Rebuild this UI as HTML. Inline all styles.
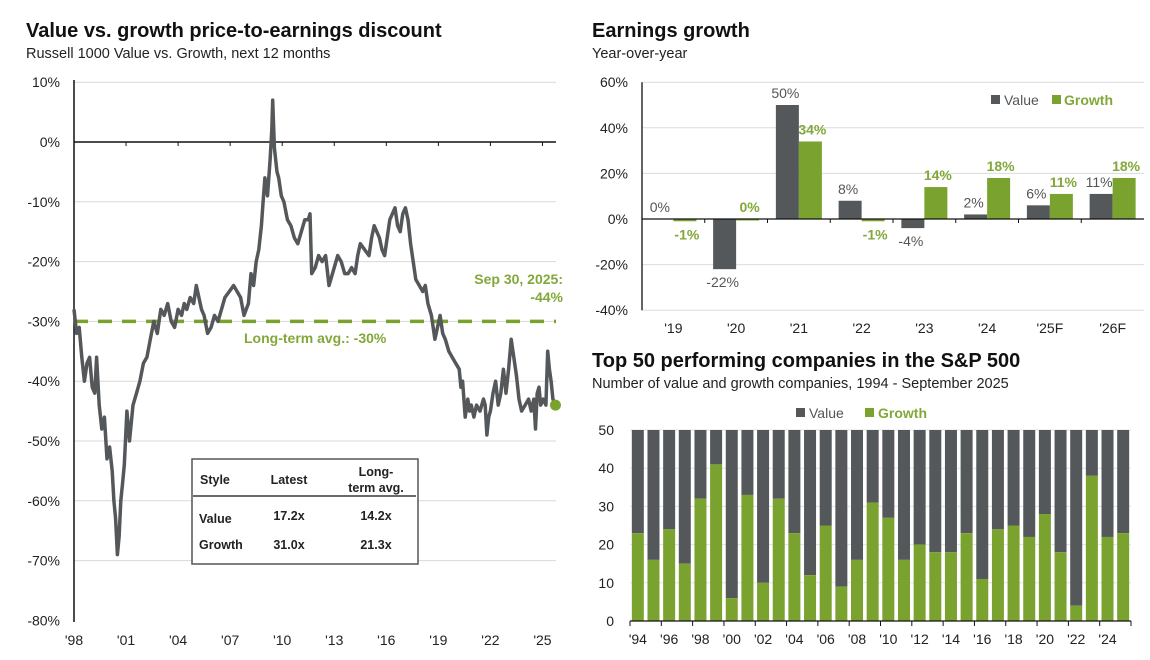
<!DOCTYPE html>
<html><head><meta charset="utf-8"><style>
body{margin:0;background:#fff;width:1150px;height:655px;overflow:hidden;font-family:"Liberation Sans",Arial,sans-serif}
svg text{font-family:"Liberation Sans",Arial,sans-serif}
</style></head><body>
<svg id="s" width="1150" height="655" viewBox="0 0 1150 655" xmlns="http://www.w3.org/2000/svg">
<text x="26" y="37" font-size="20" font-weight="bold" fill="#111">Value vs. growth price-to-earnings discount</text>
<text x="26" y="58" font-size="14.5" fill="#222">Russell 1000 Value vs. Growth, next 12 months</text>
<text x="592" y="37" font-size="20" font-weight="bold" fill="#111">Earnings growth</text>
<text x="592" y="58" font-size="14.5" fill="#222">Year-over-year</text>
<text x="592" y="367" font-size="20" font-weight="bold" fill="#111">Top 50 performing companies in the S&amp;P 500</text>
<text x="592" y="388" font-size="14.5" fill="#222">Number of value and growth companies, 1994 - September 2025</text>
<g id="left"></g><g id="tr"></g><g id="br"></g>
</svg>
<script>
// ---- Left chart data ----
const peYears=[
1998.0,1998.15,1998.3,1998.45,1998.6,1998.75,1998.9,1999.05,1999.2,1999.3,
1999.45,1999.6,1999.75,1999.9,2000.05,2000.2,2000.3,2000.4,2000.5,2000.6,
2000.7,2000.8,2000.9,2001.05,2001.2,2001.4,2001.6,2001.8,2002.0,2002.2,
2002.4,2002.6,2002.8,2003.0,2003.2,2003.4,2003.6,2003.8,2004.0,2004.2,
2004.35,2004.5,2004.7,2004.9,2005.05,2005.2,2005.35,2005.5,2005.7,2005.9,
2006.1,2006.3,2006.5,2006.7,2006.95,2007.2,2007.4,2007.6,2007.8,2008.05,
2008.2,2008.35,2008.5,2008.65,2008.8,2008.9,2009.0,2009.15,2009.3,2009.4,
2009.45,2009.55,2009.7,2009.8,2009.95,2010.1,2010.3,2010.5,2010.7,2010.9,
2011.1,2011.3,2011.5,2011.6,2011.7,2011.9,2012.1,2012.3,2012.5,2012.7,
2012.9,2013.2,2013.4,2013.6,2013.8,2014.0,2014.2,2014.35,2014.5,2014.75,
2015.0,2015.15,2015.3,2015.45,2015.6,2015.75,2015.9,2016.05,2016.2,2016.35,
2016.5,2016.65,2016.8,2016.95,2017.1,2017.25,2017.4,2017.55,2017.7,2017.9,
2018.1,2018.25,2018.4,2018.6,2018.8,2018.95,2019.1,2019.25,2019.4,2019.6,
2019.8,2020.0,2020.2,2020.3,2020.4,2020.55,2020.7,2020.8,2020.9,2021.05,
2021.2,2021.4,2021.6,2021.7,2021.8,2021.9,2022.0,2022.15,2022.3,2022.45,
2022.6,2022.75,2022.9,2023.05,2023.2,2023.35,2023.5,2023.65,2023.8,2024.0,
2024.2,2024.35,2024.5,2024.6,2024.7,2024.8,2024.9,2025.05,2025.2,2025.3,
2025.4,2025.5,2025.6,2025.75];
const peValues=[
-28,-32,-31,-36,-40,-37,-36,-41,-42,-36,
-44,-48,-46,-53,-51,-55,-60,-63,-69,-66,
-60,-57,-54,-45,-50,-44,-42,-40,-37,-36,
-33,-30,-32,-28,-29,-27,-30,-31,-28,-29,
-27,-28,-26,-27,-24,-26,-28,-29,-32,-31,
-29,-30,-28,-26,-25,-24,-25,-26,-29,-27,
-22,-24,-20,-18,-14,-10,-6,-9,-3,2,
7,-1,-5,-6,-9,-10,-13,-14,-16,-17,
-15,-13,-13,-12,-22,-21,-19,-20,-19,-24,
-22,-19,-20,-22,-22,-21,-22,-19,-17,-18,
-19,-16,-14,-15,-16,-18,-19,-16,-13,-12,
-11,-14,-15,-12,-11,-13,-17,-20,-23,-24,
-25,-24,-27,-29,-33,-31,-29,-32,-33,-35,
-36,-37,-38,-41,-40,-46,-43,-45,-44,-46,
-44,-45,-43,-44,-49,-46,-45,-42,-40,-44,
-42,-38,-42,-38,-33,-36,-39,-43,-45,-44,
-43,-45,-43,-48,-42,-41,-44,-43,-44,-35,
-38,-40,-43,-44];
const peTickVals=[10,0,-10,-20,-30,-40,-50,-60,-70,-80];
const peYearTicks=[1998,2001,2004,2007,2010,2013,2016,2019,2022,2025];
const peAvg=-30;
// ---- Earnings growth data ----
const egCats=["'19","'20","'21","'22","'23","'24","'25F","'26F"];
const egValue=[0,-22,50,8,-4,2,6,11];
const egGrowth=[-1,0,34,-1,14,18,11,18];
const egTicks=[60,40,20,0,-20,-40];
// ---- Top 50 data ----
const t50Years=[1994,1995,1996,1997,1998,1999,2000,2001,2002,2003,2004,2005,2006,2007,2008,2009,2010,2011,2012,2013,2014,2015,2016,2017,2018,2019,2020,2021,2022,2023,2024,2025];
const t50Growth=[23,16,24,15,32,41,6,33,10,32,23,12,25,9,16,31,27,16,20,18,18,23,11,24,25,22,28,18,4,38,22,23];
const t50Total=[50,50,50,50,50,50,50,50,50,50,50,50,50,50,50,50,50,50,50,50,50,50,50,50,50,50,50,50,50,50,50,50];
const t50Ticks=[0,10,20,30,40,50];

const NS="http://www.w3.org/2000/svg";
const GREY="#55585b",GREEN="#7aa22f",GTXT="#82a83a";
function mk(parent,tag,attrs,text){const e=document.createElementNS(NS,tag);for(const k in attrs)e.setAttribute(k,attrs[k]);if(text!==undefined)e.textContent=text;parent.appendChild(e);return e;}

// LEFT
(function(){
const g=document.getElementById('left');
const x=yr=>74+(yr-1998)*17.35, y=v=>142-v*5.98;
peTickVals.forEach(v=>{
 if(v!==0&&v!==-80){const l=mk(g,'line',{x1:74,x2:556,y1:y(v),y2:y(v),stroke:'#d9d9d9','stroke-width':1});
 
 }
 const t=mk(g,'text',{x:60,y:y(v)+5,'font-size':14,'text-anchor':'end',fill:'#222'},v+'%');
 
 
});
const z=mk(g,'line',{x1:74,x2:556,y1:y(0),y2:y(0),stroke:'#111','stroke-width':1.5});


peYearTicks.forEach(yr=>{
 if(yr>1998){const tk=mk(g,'line',{x1:x(yr),x2:x(yr),y1:y(0),y2:y(0)+4,stroke:'#111'});
 
 }
 const t=mk(g,'text',{x:x(yr),y:645,'font-size':14,'text-anchor':'middle',fill:'#222'},"'"+String(yr).slice(2));
 
 
});
const ax=mk(g,'line',{x1:74,x2:74,y1:80,y2:622,stroke:'#111','stroke-width':1.5});


const av=mk(g,'line',{x1:74,x2:556,y1:y(peAvg),y2:y(peAvg),stroke:GREEN,'stroke-width':3.5,'stroke-dasharray':'14,10'});


const d=peYears.map((yr,i)=>(i?'L':'M')+x(yr).toFixed(1)+','+y(peValues[i]).toFixed(1)).join('');
const p=mk(g,'path',{d:d,fill:'none',stroke:GREY,'stroke-width':3.5,'stroke-linejoin':'round'});


const n=peYears.length-1;
const c=mk(g,'circle',{cx:x(peYears[n]),cy:y(peValues[n]),r:5.5,fill:GREEN});


const a1=mk(g,'text',{x:563,y:284,'font-size':14,'font-weight':'bold','text-anchor':'end',fill:GTXT},'Sep 30, 2025:');


const a2=mk(g,'text',{x:563,y:302,'font-size':14,'font-weight':'bold','text-anchor':'end',fill:GTXT},Math.round(peValues[n])+'%');


const a3=mk(g,'text',{x:244,y:343,'font-size':14,'font-weight':'bold',fill:GTXT},'Long-term avg.:  '+peAvg+'%');


// table
const tb=mk(g,'g',{});


mk(tb,'rect',{x:192,y:459,width:226,height:105,fill:'#fff',stroke:'#555','stroke-width':1.5});
mk(tb,'line',{x1:193,x2:416,y1:496,y2:496,stroke:'#111','stroke-width':1.2});
const rows=[['Style',200,484,'start'],['Latest',289,484,'middle'],['Long-',376,476,'middle'],['term avg.',376,492,'middle'],
['Value',199,523,'start'],['17.2x',289,520,'middle'],['14.2x',376,520,'middle'],
['Growth',199,549,'start'],['31.0x',289,549,'middle'],['21.3x',376,549,'middle']];
rows.forEach(r=>{const t=mk(tb,'text',{x:r[1],y:r[2],'font-size':12.5,'font-weight':'bold','text-anchor':r[3],fill:'#222'},r[0]);

});
})();

// TOP RIGHT
(function(){
const g=document.getElementById('tr');
const L=642,R=1144,cw=(R-L)/egCats.length,y=v=>219-v*2.28,bw=23;
egTicks.forEach(v=>{
 if(v!==0){const l=mk(g,'line',{x1:L,x2:R,y1:y(v),y2:y(v),stroke:'#dcdcdc'});
 
 }
 const t=mk(g,'text',{x:628,y:y(v)+5,'font-size':14,'text-anchor':'end',fill:'#222'},v+'%');
 
 
});
egCats.forEach((c,i)=>{
 const cx=L+cw*(i+0.5);
 const v=egValue[i],gv=egGrowth[i];
 const b1=mk(g,'rect',{x:cx-bw,y:Math.min(y(v),y(0)),width:bw,height:Math.abs(y(v)-y(0)),fill:GREY});
 
 
 const b2=mk(g,'rect',{x:cx,y:Math.min(y(gv),y(0)),width:bw,height:Math.max(Math.abs(y(gv)-y(0)),1.5),fill:GREEN});
 
 
 const ly1=v>=0?y(v)-7:y(v)+18, ly2=gv>=0?y(gv)-7:y(gv)+18;
 const t1=mk(g,'text',{x:cx-bw/2-2,y:ly1,'font-size':14,'text-anchor':'middle',fill:'#555'},v+'%');
 
 
 const t2=mk(g,'text',{x:cx+bw/2+2,y:ly2,'font-size':14,'font-weight':'bold','text-anchor':'middle',fill:GTXT},gv+'%');
 
 
 const t3=mk(g,'text',{x:cx,y:333,'font-size':14,'text-anchor':'middle',fill:'#222'},c);
 
 
 if(i>0){const tk=mk(g,'line',{x1:L+cw*i,x2:L+cw*i,y1:y(0),y2:y(0)+4,stroke:'#111'});
 
 }
});
const z=mk(g,'line',{x1:L,x2:R,y1:y(0),y2:y(0),stroke:'#111','stroke-width':1.3});


const ax=mk(g,'line',{x1:L,x2:L,y1:y(60),y2:y(-40),stroke:'#111','stroke-width':1.3});


const lg=mk(g,'g',{});


mk(lg,'rect',{x:991,y:95,width:9,height:9,fill:GREY});
mk(lg,'text',{x:1004,y:105,'font-size':14,fill:'#555'},'Value');
mk(lg,'rect',{x:1052,y:95,width:9,height:9,fill:GREEN});
mk(lg,'text',{x:1064,y:105,'font-size':14,'font-weight':'bold',fill:GTXT},'Growth');
})();

// BOTTOM RIGHT
(function(){
const g=document.getElementById('br');
const L=630,R=1131,cw=(R-L)/t50Years.length,y=v=>621-v*3.82,bw=12;
t50Ticks.forEach(v=>{
 const l=mk(g,'line',{x1:L,x2:R,y1:y(v),y2:y(v),stroke:'#e3e3e3'});
 
 
 const t=mk(g,'text',{x:614,y:y(v)+5,'font-size':14,'text-anchor':'end',fill:'#222'},v);
 
 
});
t50Years.forEach((yr,i)=>{
 const cx=L+cw*(i+0.5);
 const b1=mk(g,'rect',{x:cx-bw/2,y:y(t50Total[i]),width:bw,height:y(t50Growth[i])-y(t50Total[i]),fill:GREY});
 
 
 const b2=mk(g,'rect',{x:cx-bw/2,y:y(t50Growth[i]),width:bw,height:y(0)-y(t50Growth[i]),fill:GREEN});
 
 
 if(i%2===0){
  const t=mk(g,'text',{x:cx,y:644,'font-size':14,'text-anchor':'middle',fill:'#222'},"'"+String(yr).slice(2));
  
  
  const tk=mk(g,'line',{x1:L+cw*i,x2:L+cw*i,y1:y(0),y2:y(0)+5,stroke:'#111'});
  
  
 }
});
const tkR=mk(g,'line',{x1:R,x2:R,y1:y(0),y2:y(0)+5,stroke:'#111'});


const z=mk(g,'line',{x1:L,x2:R,y1:y(0),y2:y(0),stroke:'#111','stroke-width':1.3});


const lg=mk(g,'g',{});


mk(lg,'rect',{x:796,y:408,width:9,height:9,fill:GREY});
mk(lg,'text',{x:809,y:418,'font-size':14,fill:'#555'},'Value');
mk(lg,'rect',{x:865,y:408,width:9,height:9,fill:GREEN});
mk(lg,'text',{x:878,y:418,'font-size':14,'font-weight':'bold',fill:GTXT},'Growth');
})();
</script>
</body></html>
